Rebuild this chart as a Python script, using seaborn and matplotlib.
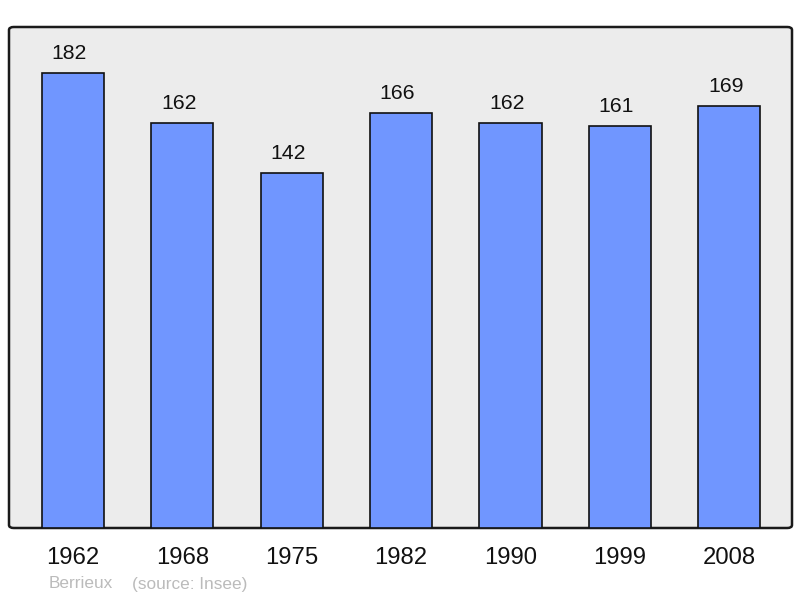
import matplotlib
matplotlib.use('Agg')
import matplotlib.pyplot as plt
import seaborn as sns
import pandas as pd
from matplotlib.patches import FancyBboxPatch

# données
years = ["1962", "1968", "1975", "1982", "1990", "1999", "2008"]
population = [182, 162, 142, 166, 162, 161, 169]
commune = "Berrieux"
source = "(source: Insee)"

sns.set_theme(style="white")
plt.rcParams['font.family'] = ['Liberation Sans', 'DejaVu Sans']

df = pd.DataFrame({"annee": years, "pop": population})

fig = plt.figure(figsize=(8, 5.98), dpi=100)
ax = fig.add_axes([9 / 800, 70 / 598, 783 / 800, 501 / 598])
ax.set_facecolor('none')

# cadre arrondi
frame = FancyBboxPatch((0, 0), 1, 1, boxstyle="round,pad=0,rounding_size=0.006",
                       transform=ax.transAxes, facecolor='#ececec',
                       edgecolor='#1a1a1a', linewidth=1.8, zorder=0,
                       clip_on=False)
ax.add_patch(frame)

sns.barplot(data=df, x="annee", y="pop", ax=ax, color='#7096ff',
            saturation=1, width=0.57, edgecolor='#111111', linewidth=1.2,
            zorder=2)

# étiquettes de valeur, légèrement décalées à gauche comme l'original
for i, v in enumerate(population):
    ax.annotate(str(v), (i, v), xytext=(-2.5, 7), textcoords='offset points',
                ha='center', va='bottom', fontsize=15.3, color='#111111')

ax.set_xlim(-0.585, 6.575)
ax.set_ylim(0, 200.4)
for s in ax.spines.values():
    s.set_visible(False)
ax.set_yticks([])
ax.set_xlabel("")
ax.set_ylabel("")
ax.tick_params(axis='x', length=0, pad=13.5, labelsize=17.2, labelcolor='#111111')

fig.text(49 / 800, 1 - 584 / 598, commune, fontsize=12.4, color='#bbbbbb',
         va='center', ha='left')
fig.text(132 / 800, 1 - 584 / 598, source, fontsize=12.4, color='#bbbbbb',
         va='center', ha='left')

fig.savefig('out.png', dpi=100)
